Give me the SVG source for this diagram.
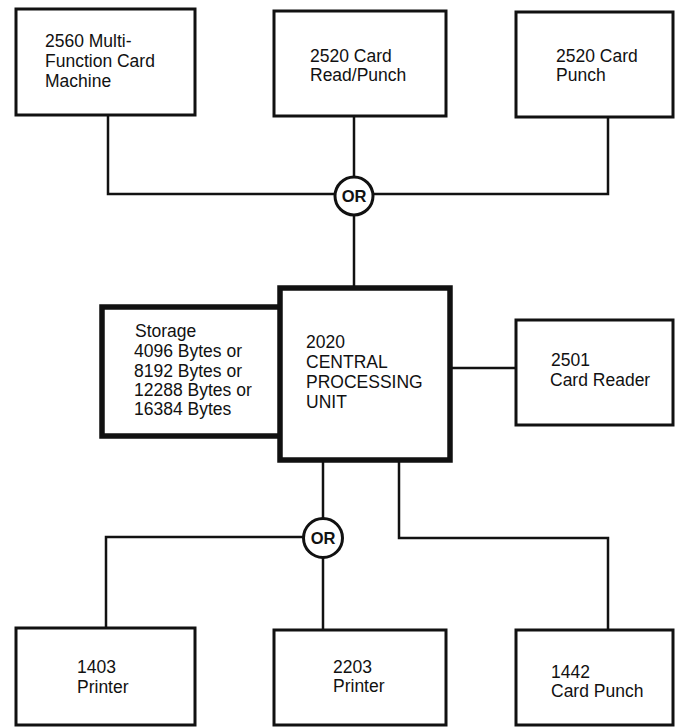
<svg xmlns="http://www.w3.org/2000/svg" width="676" height="728" viewBox="0 0 676 728">
<style>
.box{fill:#fff;stroke:#111;stroke-width:3}
.heavy{fill:#fff;stroke:#111;stroke-width:5.5}
.t{font-family:"Liberation Sans",Arial,sans-serif;font-size:17.5px;fill:#111}
.or{font-family:"Liberation Sans",Arial,sans-serif;font-size:16.5px;font-weight:bold;fill:#111;text-anchor:middle}
.ln{fill:none;stroke:#111;stroke-width:2.5}
.circ{fill:#fff;stroke:#111;stroke-width:3}
</style>
<rect width="676" height="728" fill="#fff"/>
<g id="connectors">
<polyline class="ln" points="108,115 108,194 334,194"/>
<line class="ln" x1="354" y1="116" x2="354" y2="176"/>
<polyline class="ln" points="374,194 608,194 608,117"/>
<line class="ln" x1="354" y1="216" x2="354" y2="288"/>
<line class="ln" x1="450" y1="368" x2="516" y2="368"/>
<line class="ln" x1="323" y1="460" x2="323" y2="518"/>
<polyline class="ln" points="303,537 106,537 106,628"/>
<line class="ln" x1="323" y1="558" x2="323" y2="630"/>
<polyline class="ln" points="399,460 399,538 608,538 608,630"/>
</g>
<g id="or-top">
<circle class="circ" cx="354" cy="196" r="19"/>
<text class="or" x="354" y="202">OR</text>
</g>
<g id="or-bottom">
<circle class="circ" cx="323" cy="538" r="19.5"/>
<text class="or" x="323" y="544">OR</text>
</g>
<g id="n2560">
<rect class="box" x="16" y="9" width="179" height="106"/>
<text class="t" x="45" y="47">2560 Multi-</text>
<text class="t" x="45" y="67">Function Card</text>
<text class="t" x="45" y="87">Machine</text>
</g>
<g id="n2520rp">
<rect class="box" x="274" y="11" width="172" height="105"/>
<text class="t" x="310" y="62">2520 Card</text>
<text class="t" x="310" y="81">Read/Punch</text>
</g>
<g id="n2520p">
<rect class="box" x="516" y="12" width="157" height="105"/>
<text class="t" x="556" y="62">2520 Card</text>
<text class="t" x="556" y="81">Punch</text>
</g>
<g id="storage">
<rect class="heavy" x="102" y="307" width="180" height="129"/>
<text class="t" x="135" y="337">Storage</text>
<text class="t" x="134" y="357">4096 Bytes or</text>
<text class="t" x="134" y="377">8192 Bytes or</text>
<text class="t" x="134" y="396">12288 Bytes or</text>
<text class="t" x="134" y="415">16384 Bytes</text>
</g>
<g id="cpu">
<rect class="heavy" x="280" y="288" width="170" height="172"/>
<text class="t" x="306" y="348">2020</text>
<text class="t" x="306" y="368">CENTRAL</text>
<text class="t" x="306" y="388">PROCESSING</text>
<text class="t" x="306" y="408">UNIT</text>
</g>
<g id="n2501">
<rect class="box" x="516" y="320" width="157" height="105"/>
<text class="t" x="551" y="366">2501</text>
<text class="t" x="550" y="386">Card Reader</text>
</g>
<g id="n1403">
<rect class="box" x="16" y="628" width="179" height="97"/>
<text class="t" x="77" y="673">1403</text>
<text class="t" x="77" y="693">Printer</text>
</g>
<g id="n2203">
<rect class="box" x="274" y="630" width="172" height="95"/>
<text class="t" x="333" y="673">2203</text>
<text class="t" x="333" y="692">Printer</text>
</g>
<g id="n1442">
<rect class="box" x="516" y="630" width="157" height="95"/>
<text class="t" x="551" y="678">1442</text>
<text class="t" x="551" y="697">Card Punch</text>
</g>
</svg>
